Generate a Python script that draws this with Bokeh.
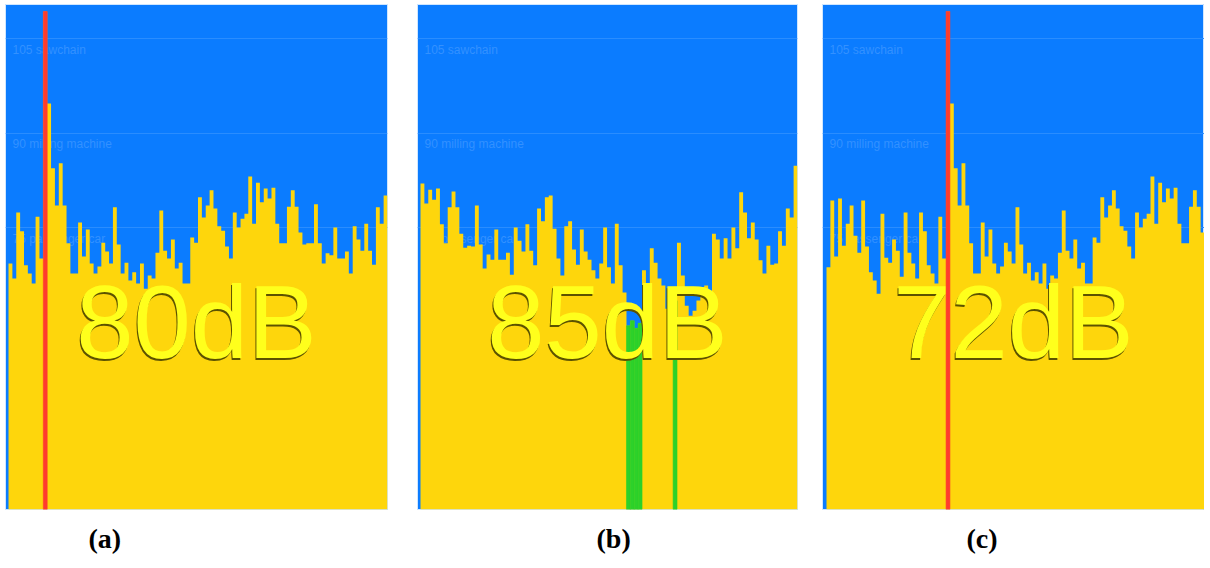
from bokeh.plotting import figure
from bokeh.models import Range1d, Title
from bokeh.layouts import row
from bokeh.embed import file_html
from bokeh.resources import INLINE
from bokeh.core.properties import value

# ---------------- data (dB levels) ----------------
reference_levels = [105, 90, 75]
reference_names = ["105 sawchain", "90 milling machine", "75 passenger car"]

panel_captions = ["(a)", "(b)", "(c)"]
panel_readouts = ["80dB", "85dB", "72dB"]

a_levels = [69.3, 66.9, 77.4, 74.4, 69.0, 67.7, 66.1, 76.7, 70.1, 109.3,
            94.7, 84.4, 78.5, 85.2, 78.5, 72.5, 67.7, 67.7, 75.8, 70.4,
            74.7, 69.3, 67.7, 68.8, 72.6, 71.2, 69.3, 78.2, 72.3, 67.7,
            69.4, 66.6, 67.9, 66.1, 69.3, 65.3, 67.4, 66.9, 71.0, 77.7,
            71.3, 70.1, 73.1, 68.5, 69.4, 66.1, 66.1, 73.4, 72.6, 79.8,
            76.6, 78.5, 80.9, 78.0, 75.2, 74.5, 72.0, 70.1, 77.4, 75.0,
            76.4, 77.2, 83.1, 75.6, 82.1, 79.0, 81.2, 79.6, 81.3, 75.6,
            72.5, 72.5, 78.3, 80.9, 78.3, 74.2, 72.3, 72.5, 72.5, 78.7,
            72.5, 69.3, 70.9, 70.6, 75.0, 70.1, 70.1, 71.2, 67.7, 75.2,
            73.1, 71.3, 75.6, 71.3, 69.1, 78.2, 75.6, 80.1]
a_red_bars = [9]

b_levels = [82.0, 78.8, 81.0, 79.4, 81.2, 75.5, 72.5, 78.2, 80.7, 78.2,
            74.0, 71.8, 72.1, 72.0, 78.5, 72.3, 68.5, 70.7, 69.9, 74.7,
            69.9, 69.9, 71.0, 67.5, 75.0, 72.9, 71.2, 75.5, 71.3, 69.0,
            78.0, 76.0, 79.8, 80.1, 74.8, 70.1, 67.4, 75.2, 76.0, 71.5,
            69.1, 74.7, 71.2, 69.9, 68.2, 66.9, 69.3, 75.0, 68.7, 66.1,
            75.6, 69.0, 64.7, 59.4, 60.2, 59.0, 59.8, 68.2, 65.0, 71.7,
            69.4, 66.9, 65.8, 62.1, 61.5, 63.4, 72.6, 67.4, 62.6, 61.0,
            61.8, 63.4, 65.5, 65.8, 64.2, 74.0, 73.1, 70.1, 73.3, 70.1,
            75.0, 71.7, 80.6, 77.4, 73.3, 75.8, 73.1, 69.8, 67.7, 72.1,
            69.1, 69.3, 74.4, 72.1, 78.0, 76.6, 84.8]
b_green_bars = [53, 54, 55, 56, 65]

c_levels = [68.7, 79.3, 70.4, 79.6, 72.1, 75.6, 78.5, 73.7, 71.0, 79.3,
            72.0, 67.9, 66.6, 64.5, 77.2, 70.2, 69.4, 73.1, 71.3, 67.2,
            77.4, 71.0,
            69.3, 66.9, 77.4, 74.4, 69.0, 67.7, 66.1, 76.7, 70.1, 109.3,
            94.7, 84.4, 78.5, 85.2, 78.5, 72.5, 67.7, 67.7, 75.8, 70.4,
            74.7, 69.3, 67.7, 68.8, 72.6, 71.2, 69.3, 78.2, 72.3, 67.7,
            69.4, 66.6, 67.9, 66.1, 69.3, 65.3, 67.4, 66.9, 71.0, 77.7,
            71.3, 70.1, 73.1, 68.5, 69.4, 66.1, 66.1, 73.4, 72.6, 79.8,
            76.6, 78.5, 80.9, 78.0, 75.2, 74.5, 72.0, 70.1, 77.4, 75.0,
            76.4, 77.2, 83.1, 75.6, 82.1, 79.0, 81.2, 79.6, 81.3, 75.6,
            72.5, 72.5, 78.3, 80.9, 78.3, 74.2]
c_red_bars = [31]

# ---------------- styling ----------------
BG = "#0B7CFF"
GRID = "#2A8DFF"
LABEL = "#3391FF"
YELLOW = "#FED60C"
RED = "#FF3B2E"
GREEN = "#2DD12A"
LEMON = "#FFFF1C"
SHADOW = "#5C5200"

Y_LO, Y_HI = 30.24, 110.40
FRAME_H = 505
TOP = 4
BOTTOM = 58


def make_panel(levels, marks, mark_color, readout, caption,
               frame_w, pad, border_left, border_right, cap_offset):
    n = len(levels)
    p = figure(width=border_left + frame_w + border_right,
               height=TOP + FRAME_H + BOTTOM,
               x_range=Range1d(-pad, n), y_range=Range1d(Y_LO, Y_HI),
               output_backend="svg", toolbar_location=None,
               x_axis_location=None, y_axis_location=None,
               min_border_left=border_left, min_border_top=TOP,
               min_border_right=border_right, min_border_bottom=BOTTOM)
    p.grid.grid_line_color = None
    p.background_fill_color = BG
    p.border_fill_color = "white"
    p.outline_line_color = "#CFE6FF"
    p.outline_line_width = 1

    # reference lines and their names (under the bars)
    p.hspan(y=reference_levels, line_color=GRID, line_width=1)
    p.text(x=[-pad] * len(reference_levels), y=reference_levels,
           text=reference_names, x_offset=7, y_offset=4,
           text_font=value("Liberation Sans"), text_font_size="12px",
           text_color=LABEL, text_baseline="top", text_align="left")

    edges = list(range(n + 1))
    p.varea_step(x=edges, y1=[Y_LO] * (n + 1), y2=levels + [levels[-1]],
                 step_mode="after", fill_color=YELLOW)
    p.vbar(x=[i + 0.5 for i in marks], top=[levels[i] for i in marks],
           bottom=Y_LO, width=1.0, fill_color=mark_color,
           line_color=mark_color, line_width=0.6)

    ty = Y_LO + 0.371 * (Y_HI - Y_LO)
    for color, dx, dy in ((SHADOW, -1, 2), (LEMON, 0, 0)):
        p.text(x=[n / 2 - pad / 2], y=[ty], text=[readout],
               x_offset=dx, y_offset=dy,
               text_font=value("Liberation Sans"), text_font_size="103px",
               text_color=color, text_align="center",
               text_baseline="middle")

    p.add_layout(Title(text=caption, align="left", offset=cap_offset,
                       standoff=22, text_font="Liberation Serif",
                       text_font_size="28px", text_font_style="bold",
                       text_color="black"), "below")
    return p


pa = make_panel(a_levels, a_red_bars, RED, panel_readouts[0], panel_captions[0],
                382, 0.78, 5, 30, 83)
pb = make_panel(b_levels, b_green_bars, GREEN, panel_readouts[1], panel_captions[1],
                380, 0.77, 0, 25, 179)
pc = make_panel(c_levels, c_red_bars, RED, panel_readouts[2], panel_captions[2],
                382, 1.04, 0, 0, 144)

layout = row(pa, pb, pc)
open("out.html", "w").write(file_html(layout, INLINE))
